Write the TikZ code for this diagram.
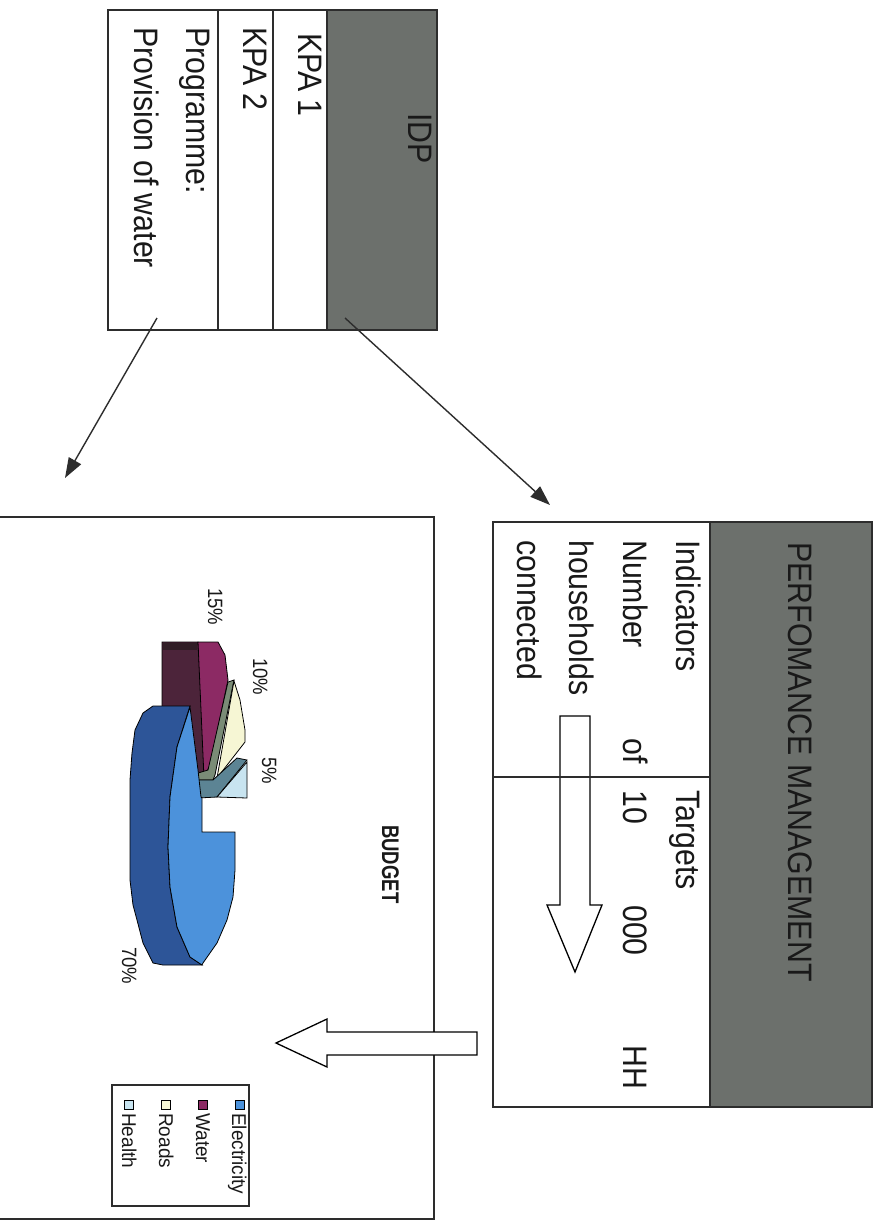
\documentclass[tikz,border=0pt]{standalone}
\usepackage{fontspec}
\setmainfont{Liberation Sans}
\usetikzlibrary{arrows.meta}
\definecolor{hdr}{RGB}{108,112,108}
\definecolor{linecol}{RGB}{45,45,45}
\definecolor{txtcol}{RGB}{25,25,25}
\definecolor{elec}{RGB}{76,146,219}
\definecolor{elecside}{RGB}{45,85,152}
\definecolor{wat}{RGB}{140,42,100}
\definecolor{watside}{RGB}{76,36,58}
\definecolor{wattop}{RGB}{48,30,38}
\definecolor{road}{RGB}{246,246,212}
\definecolor{roadside}{RGB}{122,140,118}
\definecolor{hlth}{RGB}{200,228,240}
\definecolor{hlthside}{RGB}{92,132,148}
\tikzset{
  tline/.style={draw=linecol, line width=1.3pt},
  txt/.style={rotate=-90, yscale=1.12, anchor=base west, inner sep=0pt, text=txtcol,
    font=\fontsize{30.3}{36}\selectfont},
  lbl/.style={rotate=-90, yscale=1.12, anchor=base west, inner sep=0pt, text=txtcol,
    font=\fontsize{18.5}{20}\selectfont},
  leg/.style={rotate=-90, yscale=1.05, anchor=base west, inner sep=0pt, text=txtcol,
    font=\fontsize{19}{22}\selectfont},
  pe/.style={draw=black, line width=0.8pt},
  hollow/.style={draw=black, line width=1.3pt, fill=white},
  conn/.style={draw=linecol, line width=1.4pt, -{Triangle[length=20pt,width=14pt]}},
  legsq/.style={draw=black, line width=0.7pt}
}
\begin{document}
\begin{tikzpicture}[x=1pt,y=-1pt]
\useasboundingbox (0,0) rectangle (882,1223);
\fill[white] (0,0) rectangle (882,1223);

% ---------- IDP table ----------
\fill[hdr] (327,10) rectangle (437,330);
\draw[tline] (108,10) rectangle (437,330);
\draw[tline] (218,10) -- (218,330);
\draw[tline] (273,10) -- (273,330);
\draw[tline] (327,10) -- (327,330);
\node[txt] (tidp) at (408,113) {IDP};
\node[txt] (tk1) at (298,33) {KPA 1};
\node[txt] (tk2) at (243,27) {KPA 2};
\node[txt] (tprog) at (186,27) {Programme:};
\node[txt] (tprov) at (134,27) {Provision of water};

% ---------- Performance management table ----------
\fill[hdr] (710,522) rectangle (872,1107);
\draw[tline] (493,522) rectangle (872,1107);
\draw[tline] (710,522) -- (710,1107);

% down hollow arrow
\draw[draw=black, line width=1.3pt] (560,716) -- (590,716) -- (590,905) -- (602,905)
  -- (575,972) -- (547,905) -- (560,905) -- cycle;
\draw[tline] (493,777) -- (710,777);

\node[txt] (tpm) at (788,542) {PERFOMANCE MANAGEMENT};
\node[txt] (tind) at (676,540) {Indicators};
\node[txt] (tnum) at (623,540) {Number};
\node[txt] (tof) at (623,738) {of};
\node[txt] (thh) at (569,540) {households};
\node[txt] (tcon) at (517,540) {connected};
\node[txt] (ttar) at (676,790) {Targets};
\node[txt] (tten) at (623,790) {10};
\node[txt] (tzero) at (623,905) {000};
\node[txt] (tHH) at (623,1045) {HH};

% ---------- connectors ----------
\coordinate (c1s) at (345,318);
\coordinate (c1e) at (550,505);
\coordinate (c2s) at (157,318);
\coordinate (c2e) at (65,478);
\draw[conn] (c1s) -- (c1e);
\draw[conn] (c2s) -- (c2e);

% ---------- Budget box ----------
\draw[tline] (0,517) -- (434,517) -- (434,1219) -- (0,1219);
\draw[hollow] (477,1032) -- (327,1032) -- (327,1019) -- (276,1043) -- (327,1067)
  -- (327,1055) -- (477,1055) -- cycle;
\node[rotate=-90, yscale=1.3, anchor=base west, inner sep=0pt, text=txtcol,
  font=\fontsize{18.5}{20}\selectfont\bfseries] (tbud) at (382,825) {BUDGET};

% ---------- pie ----------
% water side
\fill[watside, pe] (162,642) -- (198,642) -- (206,780) -- (190,780) -- (162,715) -- cycle;
\fill[wattop] (163,643) rectangle (197,650);
% water top
\fill[wat, pe] (198,642) -- (218,642) -- (225,655) -- (228,680) -- (210,765) -- (204,778) -- cycle;
% roads side and top
\fill[roadside, pe] (228,682) -- (234,680) -- (215,775) -- (213,780) -- (198,780) -- (198,773)
  -- (208,770) -- cycle;
\fill[road, pe] (234,681) -- (240,700) -- (245,730) -- (245,742) -- (217,778) -- cycle;
% health side and top
\fill[hlthside, pe] (198,780) -- (213,780) -- (237,758) -- (247,760) -- (217,797) -- (198,798) -- cycle;
\fill[hlth, pe] (217,797) -- (247,762) -- (247,798) -- cycle;
% electricity side
\fill[elecside, pe] (190,706) -- (153,706) -- (143,713) -- (135,730) -- (132,753) -- (130,780)
  -- (130,880) -- (133,905) -- (137,920) -- (143,943) -- (153,963) -- (163,965) -- (202,965)
  -- (190,957) -- (177,927) -- (170,887) -- (168,847) -- (170,797) -- (177,747) -- cycle;
% electricity top
\fill[elec, pe] (190,707) -- (198,770) -- (201,797) -- (202,798) -- (202,832) -- (235,832)
  -- (235,870) -- (233,897) -- (227,920) -- (217,943) -- (203,963) -- (202,965)
  -- (190,957) -- (177,927) -- (170,887) -- (168,847) -- (170,797) -- (177,747) -- cycle;

\node[lbl] (l15) at (208,588) {15\%};
\node[lbl] (l10) at (253,658) {10\%};
\node[lbl] (l5) at (262,757) {5\%};
\node[lbl] (l70) at (122,947) {70\%};

% ---------- legend ----------
\draw[draw=linecol, line width=1.1pt] (112,1085) rectangle (249,1206);
\draw[legsq, fill=elec] (235,1100) rectangle (244,1109);
\draw[legsq, fill=wat] (198,1100) rectangle (207,1109);
\draw[legsq, fill=road] (161,1100) rectangle (170,1109);
\draw[legsq, fill=hlth] (124,1100) rectangle (133,1109);
\node[leg] (le) at (232,1113) {Electricity};
\node[leg] (lw) at (196,1113) {Water};
\node[leg] (lr) at (159,1113) {Roads};
\node[leg] (lh) at (122,1113) {Health};
\end{tikzpicture}
\end{document}
